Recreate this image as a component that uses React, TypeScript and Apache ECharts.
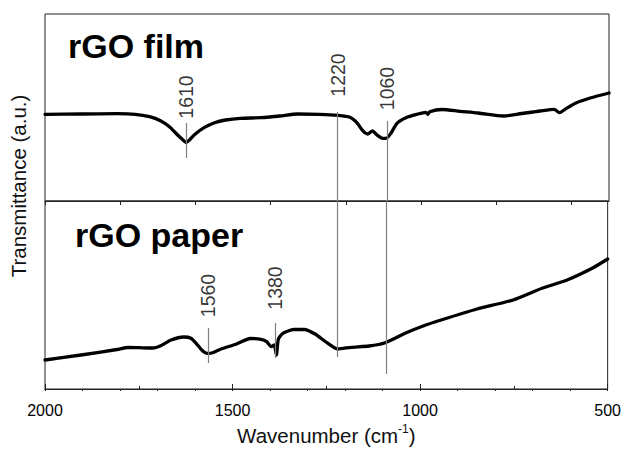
import React, { useEffect, useRef } from "react";
import * as echarts from "echarts";

// ---- data ----
const filmWavenumber = [2000, 1904, 1808, 1760, 1722, 1693, 1669, 1650, 1635, 1625, 1616, 1601, 1577, 1549, 1520, 1481, 1424, 1376, 1328, 1270, 1221, 1189, 1169, 1155, 1142, 1129, 1117, 1102, 1093, 1080, 1064, 1040, 1011, 987, 982, 977, 944, 896, 848, 780, 732, 702, 684, 646, 632, 617, 588, 550, 500];
const filmValue = [86.7, 87, 87.3, 86.7, 84.3, 80.3, 74.3, 67, 61.7, 58.5, 61, 66.7, 73.3, 78.3, 81, 82.7, 83.3, 85, 87, 86.7, 85.7, 83.7, 77.7, 70.3, 67, 70, 66, 62.7, 62.7, 67.7, 77.7, 83.3, 86.7, 88.7, 86.7, 89.3, 91.5, 89.7, 88, 85, 87.5, 89, 90, 91.7, 88.3, 91.7, 98, 103, 108];

const paperWavenumber = [2000, 1904, 1808, 1779, 1750, 1712, 1693, 1664, 1630, 1611, 1597, 1582, 1568, 1553, 1529, 1491, 1453, 1424, 1409, 1397, 1389, 1383, 1378, 1366, 1337, 1309, 1280, 1251, 1220, 1184, 1136, 1093, 1040, 992, 944, 848, 752, 675, 608, 540, 500];
const paperValue = [29, 34, 39.5, 41.5, 41.3, 41, 43, 49, 52, 50.7, 45.7, 39, 35.7, 36.3, 40.3, 44.7, 50.5, 49.7, 47.3, 42.3, 44, 34, 49.7, 55.7, 59.5, 59.5, 55, 47, 40, 41.7, 43, 46.3, 55.7, 63, 69, 80, 89, 100.7, 109, 121, 130];

const filmPeakLabels = ["1610", "1220", "1060"];
const filmPeakPositions = [1625, 1222, 1090];
const filmPeakLabelLevel = [104, 126, 112.5];
const filmPeakLineTop = [78, 89, 80];
const filmPeakLineBottom = [43, 0, 0];

const paperPeakLabels = ["1560", "1380"];
const paperPeakPositions = [1566, 1387];
const paperPeakLabelLevel = [93.5, 101];
const paperPeakLineTop = [61, 66];
const paperPeakLineBottom = [26, 31];

// lines that continue from the upper panel into the lower one
const crossingPositions = [1222, 1090];
const crossingBottom = [32, 15];

const dividerMajorTicks = [600, 800, 1000, 1200, 1400, 1600, 1800, 2000];
const xMin = 500;
const xMax = 2000;
const filmMax = 187;
const paperMax = 188;

const FONT = '"Liberation Sans", Arial, Helvetica, sans-serif';
const INK = "#111";
const FRAME = "#222";
const GUIDE = "#808080";

export default function App() {
  const ref = useRef<HTMLDivElement>(null);

  useEffect(() => {
    if (!ref.current) return;
    const chart = echarts.init(ref.current, undefined, { renderer: "svg" });

    const filmData = filmWavenumber.map((w, i) => [w, filmValue[i]]);
    const paperData = paperWavenumber.map((w, i) => [w, paperValue[i]]);

    const filmLines = filmPeakPositions.map((w, i) => [
      { coord: [w, filmPeakLineTop[i]] },
      { coord: [w, filmPeakLineBottom[i]] },
    ]);
    const paperLines = paperPeakPositions
      .map((w, i) => [
        { coord: [w, paperPeakLineTop[i]] },
        { coord: [w, paperPeakLineBottom[i]] },
      ])
      .concat(
        crossingPositions.map((w, i) => [
          { coord: [w, paperMax] },
          { coord: [w, crossingBottom[i]] },
        ])
      );

    const markLineBase = {
      silent: true,
      symbol: ["none", "none"],
      label: { show: false },
      lineStyle: { color: GUIDE, width: 1.2, type: "solid" },
      emphasis: { disabled: true },
      animation: false,
    };

    const peakLabel = {
      show: true,
      position: "inside",
      rotate: 90,
      formatter: "{b}",
      fontSize: 19.5,
      fontFamily: FONT,
      color: "#000",
    };

    const axisCommon = {
      type: "value",
      min: xMin,
      max: xMax,
      inverse: true,
      splitLine: { show: false },
      axisLine: { show: true, lineStyle: { color: FRAME, width: 1 } },
    };

    const option: any = {
      animation: false,
      backgroundColor: "#ffffff",
      grid: [
        { left: 45, top: 14, width: 564, height: 187, show: true, borderColor: FRAME, borderWidth: 1, backgroundColor: "transparent" },
        { left: 45, top: 201, width: 564, height: 188, show: true, borderColor: FRAME, borderWidth: 1, backgroundColor: "transparent" },
      ],
      xAxis: [
        {
          ...axisCommon,
          gridIndex: 0,
          position: "bottom",
          axisTick: { show: true, inside: false, length: 4, customValues: dividerMajorTicks, lineStyle: { color: FRAME } },
          axisLabel: { show: false },
        },
        {
          ...axisCommon,
          gridIndex: 1,
          position: "top",
          interval: 100,
          axisTick: { show: true, inside: true, length: 2, lineStyle: { color: FRAME } },
          axisLabel: { show: false },
        },
        {
          ...axisCommon,
          gridIndex: 1,
          position: "bottom",
          interval: 500,
          axisTick: { show: true, inside: true, length: 5, lineStyle: { color: FRAME } },
          minorTick: { show: true, splitNumber: 2, length: 3, lineStyle: { color: FRAME } },
          axisLabel: {
            show: true,
            margin: 13,
            fontSize: 16,
            fontFamily: FONT,
            color: "#000",
            formatter: (v: number) => String(v),
          },
          name: "{a|Wavenumber (cm}{s|-1}{a|)}",
          nameLocation: "middle",
          nameGap: 34,
          nameTextStyle: {
            rich: {
              a: { fontSize: 20.5, fontFamily: FONT, color: INK, lineHeight: 24 },
              s: { fontSize: 12, fontFamily: FONT, color: INK, verticalAlign: "top", lineHeight: 24 },
            },
          },
        },
      ],
      yAxis: [
        { gridIndex: 0, type: "value", min: 0, max: filmMax, show: false, splitLine: { show: false } },
        { gridIndex: 1, type: "value", min: 0, max: paperMax, show: false, splitLine: { show: false } },
      ],
      graphic: [
        {
          type: "text",
          x: 68,
          y: 46,
          style: { text: "rGO film", fontSize: 34, fontWeight: "bold", fontFamily: FONT, fill: "#000", textAlign: "left", textVerticalAlign: "middle", verticalAlign: "middle" },
        },
        {
          type: "text",
          x: 75,
          y: 235,
          style: { text: "rGO paper", fontSize: 34, fontWeight: "bold", fontFamily: FONT, fill: "#000", textAlign: "left", textVerticalAlign: "middle", verticalAlign: "middle" },
        },
        {
          type: "text",
          x: 18,
          y: 186,
          rotation: Math.PI / 2,
          style: { text: "Transmittance (a.u.)", fontSize: 20.5, fontFamily: FONT, fill: INK, textAlign: "center", textVerticalAlign: "middle", verticalAlign: "middle" },
        },
      ],
      series: [
        {
          name: "rGO film",
          type: "line",
          xAxisIndex: 0,
          yAxisIndex: 0,
          data: filmData,
          showSymbol: false,
          smooth: 0.25,
          lineStyle: { color: "#000", width: 3.3, cap: "round", join: "round" },
          z: 3,
          markLine: { ...markLineBase, data: filmLines },
        },
        {
          name: "rGO paper",
          type: "line",
          xAxisIndex: 2,
          yAxisIndex: 1,
          data: paperData,
          showSymbol: false,
          smooth: 0.2,
          lineStyle: { color: "#000", width: 3.3, cap: "round", join: "round" },
          z: 3,
          markLine: { ...markLineBase, data: paperLines },
        },
        {
          name: "film peaks",
          type: "scatter",
          xAxisIndex: 0,
          yAxisIndex: 0,
          symbolSize: 1,
          itemStyle: { color: "transparent" },
          silent: true,
          data: filmPeakPositions.map((w, i) => ({ name: filmPeakLabels[i], value: [w, filmPeakLabelLevel[i]] })),
          label: peakLabel,
        },
        {
          name: "paper peaks",
          type: "scatter",
          xAxisIndex: 2,
          yAxisIndex: 1,
          symbolSize: 1,
          itemStyle: { color: "transparent" },
          silent: true,
          data: paperPeakPositions.map((w, i) => ({ name: paperPeakLabels[i], value: [w, paperPeakLabelLevel[i]] })),
          label: peakLabel,
        },
      ],
    };

    chart.setOption(option);
    return () => chart.dispose();
  }, []);

  return (
    <div
      ref={ref}
      style={{ position: "absolute", left: 0, top: 0, width: 624, height: 450, background: "#fff" }}
    />
  );
}
